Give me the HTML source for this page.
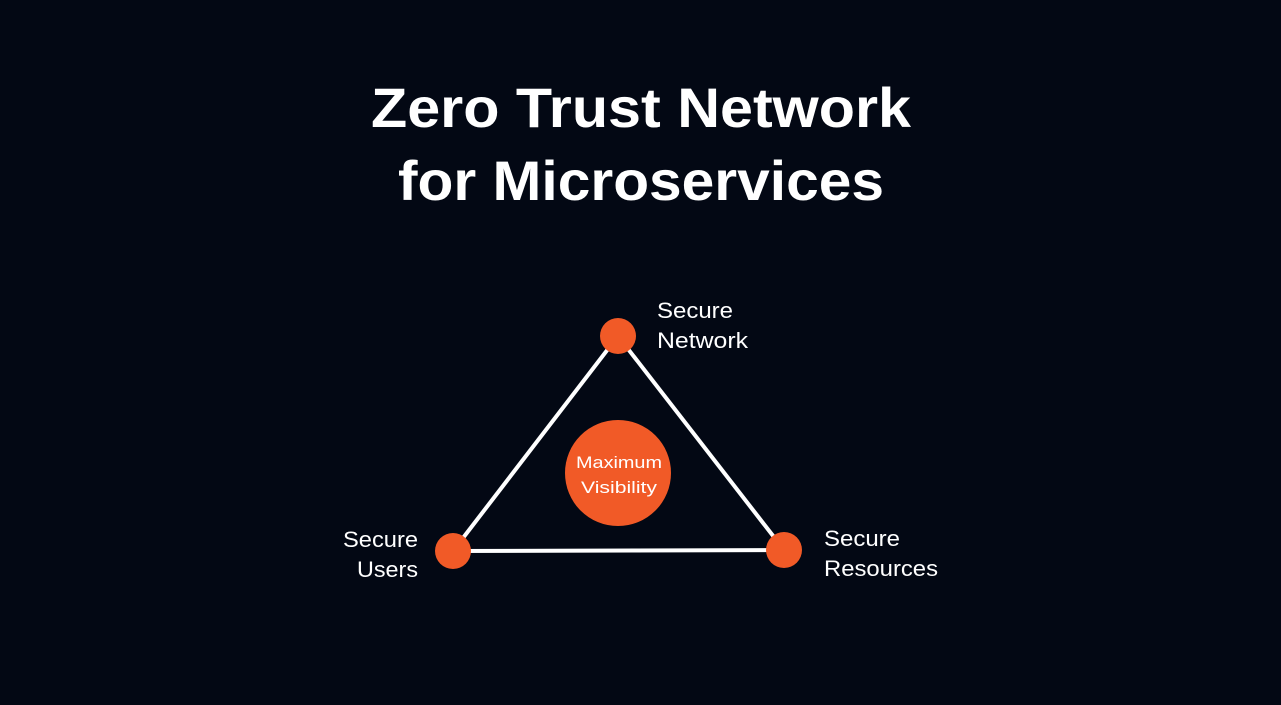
<!DOCTYPE html>
<html><head><style>
html,body{margin:0;padding:0;background:#030814;}
</style></head><body>
<svg width="1281" height="700" viewBox="0 0 1281 700" xmlns="http://www.w3.org/2000/svg">
<rect width="1281" height="700" fill="#030814"/>
<g font-family="Liberation Sans, sans-serif" font-weight="bold" fill="#fff" font-size="56" text-anchor="middle">
<text x="641" y="127" textLength="540" lengthAdjust="spacingAndGlyphs">Zero Trust Network</text>
<text x="641" y="200" textLength="486" lengthAdjust="spacingAndGlyphs">for Microservices</text>
</g>
<g stroke="#fff" stroke-width="4" fill="none">
<line x1="618" y1="336" x2="453" y2="551"/>
<line x1="618" y1="336" x2="784" y2="550"/>
<line x1="453" y1="551" x2="784" y2="550"/>
</g>
<g fill="#f15a27">
<circle cx="618" cy="336" r="18"/>
<circle cx="453" cy="551" r="18"/>
<circle cx="784" cy="550" r="18"/>
<circle cx="618" cy="473" r="53"/>
</g>
<g font-family="Liberation Sans, sans-serif" fill="#fff" font-size="22">
<text x="657" y="318" textLength="76" lengthAdjust="spacingAndGlyphs">Secure</text>
<text x="657" y="348" textLength="91" lengthAdjust="spacingAndGlyphs">Network</text>
<text x="343" y="547" textLength="75" lengthAdjust="spacingAndGlyphs">Secure</text>
<text x="357" y="577" textLength="61" lengthAdjust="spacingAndGlyphs">Users</text>
<text x="824" y="546" textLength="76" lengthAdjust="spacingAndGlyphs">Secure</text>
<text x="824" y="576" textLength="114" lengthAdjust="spacingAndGlyphs">Resources</text>
</g>
<g font-family="Liberation Sans, sans-serif" fill="#fff" font-size="17">
<text x="576" y="468" textLength="86" lengthAdjust="spacingAndGlyphs">Maximum</text>
<text x="581" y="493" textLength="76" lengthAdjust="spacingAndGlyphs">Visibility</text>
</g>
</svg>
</body></html>
